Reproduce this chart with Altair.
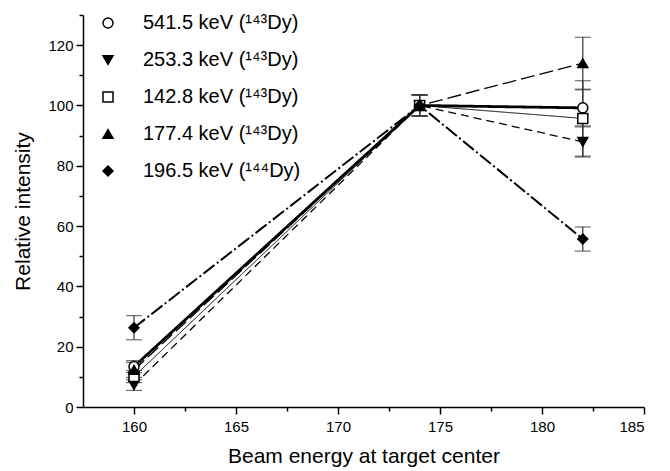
import altair as alt
import pandas as pd

energies = [160, 174, 182]
labels = [
    "541.5 keV (¹⁴³Dy)",
    "253.3 keV (¹⁴³Dy)",
    "142.8 keV (¹⁴³Dy)",
    "177.4 keV (¹⁴³Dy)",
    "196.5 keV (¹⁴⁴Dy)",
]
values = [
    [13.4, 100, 99.2],
    [7.3, 100, 87.9],
    [10.1, 100, 95.7],
    [12.3, 100, 114.0],
    [26.3, 100, 55.7],
]
errors = [
    [2.0, 3.5, 6.0],
    [1.8, 3.5, 5.0],
    [2.0, 3.5, 12.5],
    [2.5, 3.5, 8.6],
    [4.0, 3.5, 4.0],
]

rows = []
for lab, vals, errs in zip(labels, values, errors):
    for e, v, er in zip(energies, vals, errs):
        rows.append({"series": lab, "energy": e, "value": v, "lo": v - er, "hi": v + er})
df = pd.DataFrame(rows)

shapes = ["circle", "triangle-down", "square", "triangle-up", "diamond"]
fills = ["white", "black", "white", "black", "black"]
dashes = [[1, 0], [8, 5], [1, 0], [14, 5], [14, 3, 2, 3]]
widths = [2.8, 1.3, 1.0, 1.3, 2.0]

FONT = "Liberation Sans"

x_enc = alt.X(
    "energy:Q",
    title="Beam energy at target center",
    scale=alt.Scale(domain=[157.5, 185], nice=False, zero=False),
    axis=alt.Axis(
        values=[160, 162.5, 165, 167.5, 170, 172.5, 175, 177.5, 180, 182.5, 185],
        labelExpr="datum.value % 5 === 0 ? datum.label : ''",
        tickSize={"condition": {"test": "datum.value % 5 === 0", "value": 7}, "value": 4},
        labelPadding=5,
        titlePadding=11,
    ),
)

def y_enc(field):
    return alt.Y(
        f"{field}:Q",
        title="Relative intensity",
        scale=alt.Scale(domain=[0, 130], nice=False),
        axis=alt.Axis(
            values=list(range(0, 131, 10)),
            labelExpr="datum.value % 20 === 0 ? datum.label : ''",
            tickSize={"condition": {"test": "datum.value % 20 === 0", "value": 7}, "value": 4},
            titlePadding=14,
        ),
    )

legend = alt.Legend(
    title=None,
    orient="none",
    legendX=15,
    legendY=-2,
    padding=0,
    labelFont=FONT,
    labelFontSize=20,
    labelColor="black",
    labelOffset=25,
    rowPadding=17,
    symbolSize=100,
    symbolStrokeWidth=1.5,
)

base = alt.Chart(df)

line_layers = []
for lab, dash, w in zip(labels, dashes, widths):
    line_layers.append(
        base.transform_filter(alt.datum.series == lab)
        .mark_line(color="black", strokeDash=dash, strokeWidth=w)
        .encode(x=x_enc, y=y_enc("value"))
    )

errbars = base.mark_errorbar(ticks=True, size=16, thickness=1.2, color="#333333").encode(
    x=x_enc,
    y=y_enc("lo"),
    y2="hi:Q",
    detail="series:N",
)

points = base.mark_point(filled=True, strokeWidth=1.5, opacity=1, size=100).encode(
    x=x_enc,
    y=y_enc("value"),
    shape=alt.Shape("series:N", scale=alt.Scale(domain=labels, range=shapes), legend=legend),
    fill=alt.Fill("series:N", scale=alt.Scale(domain=labels, range=fills), legend=legend),
    stroke=alt.Stroke("series:N", scale=alt.Scale(domain=labels, range=["black"] * 5), legend=legend),
)

chart = (
    alt.layer(*line_layers, errbars, points)
    .properties(
        width=561,
        height=392,
        autosize="none",
        padding={"left": 83, "top": 15, "right": 26, "bottom": 64},
    )
    .configure_view(stroke=None)
    .configure_axis(
        grid=False,
        domainColor="black",
        domainWidth=1.5,
        tickColor="black",
        tickWidth=1.5,
        labelFont=FONT,
        labelFontSize=15,
        labelColor="black",
        labelPadding=3,
        titleFont=FONT,
        titleFontSize=21,
        titleFontWeight="normal",
        titleColor="black",
    )
)

chart.save("out.html", embed_options={"renderer": "svg", "actions": False})
